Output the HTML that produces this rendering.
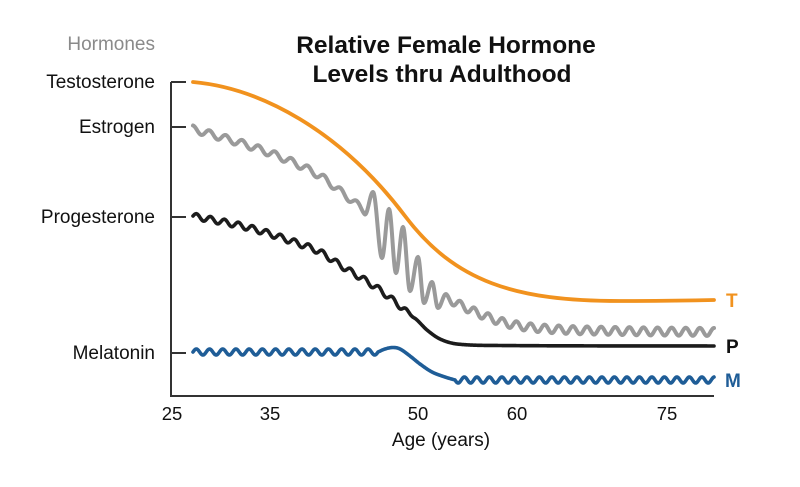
<!DOCTYPE html>
<html><head><meta charset="utf-8">
<style>
html,body{margin:0;padding:0;background:#fff;}
svg{display:block;}
text{font-family:"Liberation Sans",Arial,sans-serif;}
</style></head><body>
<svg id="c" width="800" height="487" viewBox="0 0 800 487" xmlns="http://www.w3.org/2000/svg">
<rect width="800" height="487" fill="#fff"/>
<text x="446" y="53" text-anchor="middle" font-size="24.5" font-weight="bold" fill="#111">Relative Female Hormone</text>
<text x="442" y="82" text-anchor="middle" font-size="24.5" font-weight="bold" fill="#111">Levels thru Adulthood</text>
<text x="155" y="50" text-anchor="end" font-size="19" fill="#8a8a8a">Hormones</text>
<text x="155" y="88" text-anchor="end" font-size="19" fill="#111">Testosterone</text>
<text x="155" y="133" text-anchor="end" font-size="19" fill="#111">Estrogen</text>
<text x="155" y="223" text-anchor="end" font-size="19" fill="#111">Progesterone</text>
<text x="155" y="359" text-anchor="end" font-size="19" fill="#111">Melatonin</text>
<path d="M171 82 H186 M171 127 H186 M171 217 H186 M171 353 H186 M171 82 V396 H714" fill="none" stroke="#333" stroke-width="2"/>
<text x="172" y="420" text-anchor="middle" font-size="18.5" fill="#111">25</text>
<text x="270" y="420" text-anchor="middle" font-size="18.5" fill="#111">35</text>
<text x="418" y="420" text-anchor="middle" font-size="18.5" fill="#111">50</text>
<text x="517" y="420" text-anchor="middle" font-size="18.5" fill="#111">60</text>
<text x="667" y="420" text-anchor="middle" font-size="18.5" fill="#111">75</text>
<text x="441" y="446" text-anchor="middle" font-size="19" fill="#111">Age (years)</text>
<text x="726" y="307" font-size="19" font-weight="bold" fill="#F1921E">T</text>
<text x="726" y="353" font-size="19" font-weight="bold" fill="#111">P</text>
<text x="725" y="387" font-size="19" font-weight="bold" fill="#1f5d97">M</text>
<path id="gray" fill="none" stroke="#9a9a9a" stroke-width="4" stroke-linecap="round" stroke-linejoin="round"/>
<path id="black" fill="none" stroke="#1c1c1c" stroke-width="3.6" stroke-linecap="round" stroke-linejoin="round"/>
<path id="blue" fill="none" stroke="#1f5d97" stroke-width="3.6" stroke-linecap="round" stroke-linejoin="round"/>
<path id="orange" d="M193 82 C260 88 340 130 405 216 C455 282 515 301 620 301 Q670 301 714 300" fill="none" stroke="#F1921E" stroke-width="3.8" stroke-linecap="round" stroke-linejoin="round"/>
</svg>
<script>
function cr(pts){
  return function(x){
    var n=pts.length;
    if(x<=pts[0][0]) return pts[0][1];
    if(x>=pts[n-1][0]) return pts[n-1][1];
    var i=0; while(pts[i+1][0]<x) i++;
    var p0=pts[Math.max(i-1,0)], p1=pts[i], p2=pts[i+1], p3=pts[Math.min(i+2,n-1)];
    var dx=p2[0]-p1[0];
    var t=(x-p1[0])/dx;
    var m1=(p2[1]-p0[1])/(p2[0]-p0[0])*dx;
    var m2=(p3[1]-p1[1])/(p3[0]-p1[0])*dx;
    var t2=t*t,t3=t2*t;
    return (2*t3-3*t2+1)*p1[1]+(t3-2*t2+t)*m1+(-2*t3+3*t2)*p2[1]+(t3-t2)*m2;
  };
}
function fnPath(f,x0,x1,step){
  var d='';
  for(var x=x0;x<=x1+1e-6;x+=step){
    d+=(d?' L':'M')+x.toFixed(2)+' '+f(x).toFixed(2);
  }
  return d;
}
function extremaSeg(ex){
  var d='';
  for(var i=0;i<ex.length-1;i++){
    var a=ex[i], b=ex[i+1];
    var n=Math.max(6,Math.ceil((b[0]-a[0])*2));
    for(var k=1;k<=n;k++){
      var t=k/n;
      var x=a[0]+(b[0]-a[0])*t;
      var y=a[1]+(b[1]-a[1])*(1-Math.cos(Math.PI*t))/2;
      d+=' L'+x.toFixed(2)+' '+y.toFixed(2);
    }
  }
  return d;
}

// Gray (Estrogen)
var gb=cr([[193,129],[250,146],[290,161],[320,176],[345,195],[365,211]]);
var P1=(365-193)/10.5;
function g1(x){return gb(x)-3.5*Math.cos(2*Math.PI*(x-193)/P1);}
var d=fnPath(g1,193,365,0.5);
d+=extremaSeg([[365,g1(365)],[373,192],[382,258],[389,209],[396,273],[403,227],[410,291],[418,257],[424,303],[432,282],[438,308],[446,294]]);
var gb3=cr([[446,298],[480,314],[510,324],[550,329],[620,331],[714,332]]);
var P3=(714-446)/19;
function g3(x){return gb3(x)-4*Math.cos(2*Math.PI*(x-446)/P3);}
for(var x=446.5;x<=714;x+=0.5){d+=' L'+x.toFixed(2)+' '+g3(x).toFixed(2);}
document.getElementById('gray').setAttribute('d',d);

// Black (Progesterone)
var bb=cr([[193,216],[250,228],[300,244],[320,252],[340,265],[377,288],[405,310],[417,320],[427,330],[440,339],[457,344],[500,345.5],[714,346]]);
function bf(x){
  var A = x<403?3:(x<416?3*(416-x)/13:0);
  return bb(x)-A*Math.sin(2*Math.PI*(x-193)/14);
}
document.getElementById('black').setAttribute('d',fnPath(bf,193,714,0.5));

// Blue (Melatonin)
var hump=cr([[378,352],[385,349],[393,347.5],[400,349],[410,356],[420,364],[432,372],[445,377],[455,380]]);
function mf(x){
  if(x<=378) return 352-3*Math.sin(2*Math.PI*(x-193)/(185/14));
  if(x<=455) return hump(x);
  return 380+3*Math.sin(2*Math.PI*(x-455)/12.5);
}
document.getElementById('blue').setAttribute('d',fnPath(mf,193,714,0.5));
</script>
</body></html>
